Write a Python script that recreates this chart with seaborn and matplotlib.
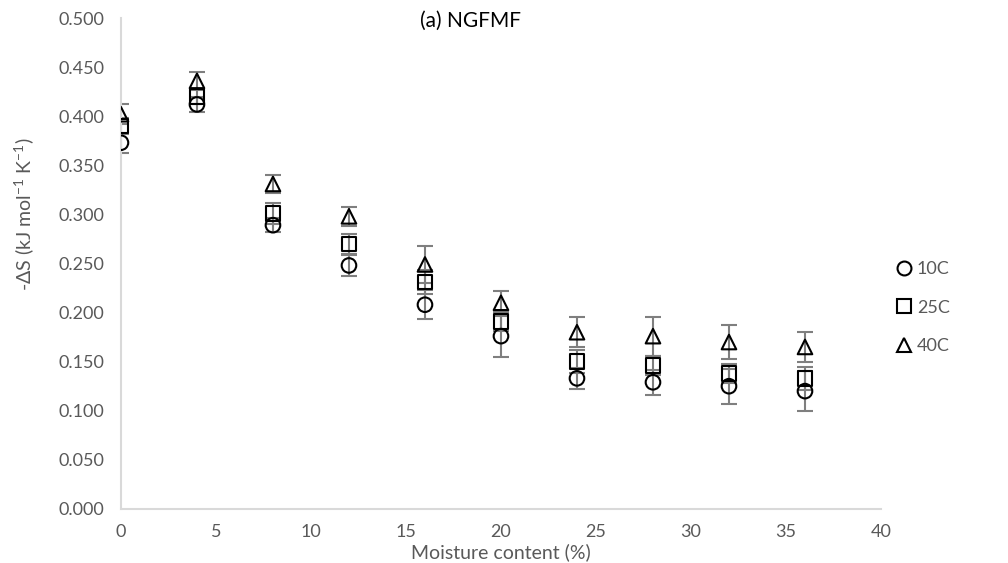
import numpy as np
import pandas as pd
import seaborn as sns
import matplotlib.pyplot as plt

# datos
moisture = [0, 4, 8, 12, 16, 20, 24, 28, 32, 36]
temps = ['10C', '25C', '40C']
ds_10 = [0.373, 0.412, 0.289, 0.248, 0.208, 0.176, 0.133, 0.129, 0.125, 0.120]
ds_25 = [0.390, 0.420, 0.301, 0.270, 0.231, 0.191, 0.150, 0.146, 0.138, 0.133]
ds_40 = [0.402, 0.436, 0.331, 0.298, 0.249, 0.210, 0.180, 0.176, 0.170, 0.165]
err_10 = [0.010, 0.008, 0.007, 0.011, 0.015, 0.021, 0.011, 0.013, 0.018, 0.020]
err_25 = [0.008, 0.008, 0.011, 0.010, 0.012, 0.010, 0.012, 0.010, 0.010, 0.012]
err_40 = [0.010, 0.009, 0.009, 0.010, 0.019, 0.012, 0.015, 0.020, 0.017, 0.015]

df = pd.DataFrame({
    'moisture': moisture * 3,
    'ds': ds_10 + ds_25 + ds_40,
    'err': err_10 + err_25 + err_40,
    'temp': np.repeat(temps, len(moisture)),
})

sns.set_theme(style='white')
plt.rcParams['font.family'] = ['Lato', 'DejaVu Sans']
plt.rcParams['mathtext.fontset'] = 'custom'
plt.rcParams['mathtext.rm'] = 'Lato'
plt.rcParams['mathtext.it'] = 'Lato'

gray = '#595959'
fig, ax = plt.subplots(figsize=(10.08, 5.63), dpi=100)
fig.subplots_adjust(left=0.12, right=0.874, bottom=0.096, top=0.968)

# barras de error primero
for t in temps:
    sub = df[df['temp'] == t]
    ax.errorbar(sub['moisture'], sub['ds'], yerr=sub['err'], fmt='none',
                ecolor='#7f7f7f', elinewidth=1.5, capsize=6, capthick=1.5, zorder=2)

markers = {'10C': 'o', '25C': 's', '40C': '^'}
sns.scatterplot(data=df, x='moisture', y='ds', style='temp', markers=markers,
                s=110, facecolor='none', edgecolor='black', linewidth=1.5,
                color='black', ax=ax, zorder=3, legend=False)

# leyenda a la derecha
for t in temps:
    ax.plot([], [], linestyle='none', marker=markers[t], markersize=10,
            markerfacecolor='none', markeredgecolor='black', markeredgewidth=1.5, label=t)
leg = ax.legend(loc='center left', bbox_to_anchor=(0.995, 0.41), frameon=False,
                fontsize=13, handletextpad=0.1, labelspacing=1.25, handlelength=1.2)
for txt in leg.get_texts():
    txt.set_color(gray)

ax.set_xlim(0, 40)
ax.set_ylim(0, 0.5)
ax.set_xticks(range(0, 41, 5))
ax.set_yticks(np.arange(0, 0.501, 0.05))
ax.set_yticklabels([f'{v:.3f}' for v in np.arange(0, 0.501, 0.05)])
ax.tick_params(axis='both', colors=gray, labelsize=13, length=0)
ax.tick_params(axis='y', pad=12)
ax.tick_params(axis='x', pad=11)
ax.set_xlabel('Moisture content (%)', fontsize=14, color=gray, labelpad=2)
ax.set_ylabel(r'-ΔS (kJ mol$^{-1}$ K$^{-1}$)', fontsize=14, color=gray)
ax.yaxis.set_label_coords(-0.112, 0.6)
ax.text(0.46, 0.995, '(a) NGFMF', transform=ax.transAxes, ha='center', va='center',
        fontsize=15, color='black')

for side in ['top', 'right']:
    ax.spines[side].set_visible(False)
for side in ['left', 'bottom']:
    ax.spines[side].set_color('#d9d9d9')
    ax.spines[side].set_linewidth(1.5)

plt.savefig('out.png', dpi=100)
